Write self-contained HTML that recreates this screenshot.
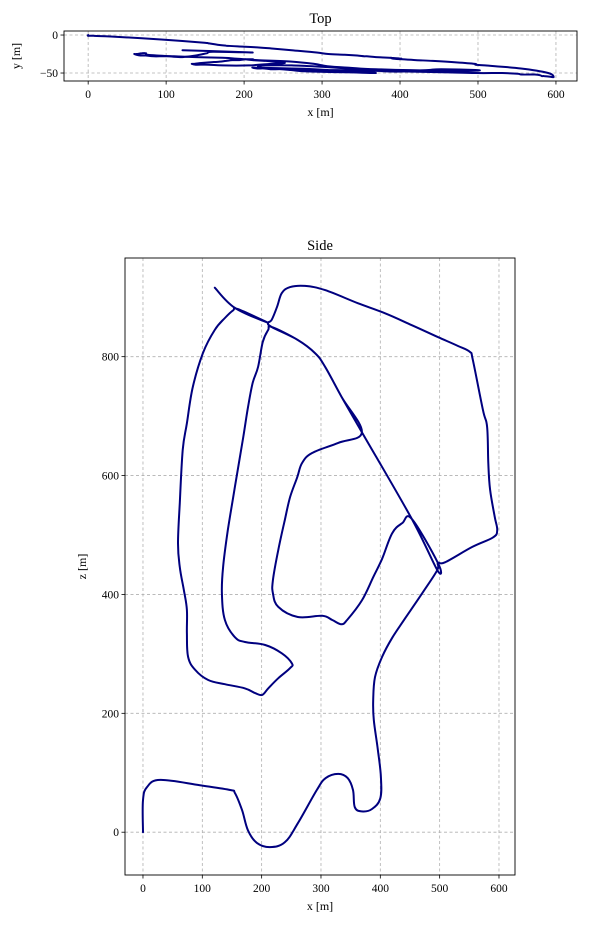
<!DOCTYPE html>
<html><head><meta charset="utf-8"><style>
body{margin:0;background:#fff;}
svg{display:block;font-family:"Liberation Serif",serif;}
</style></head><body>
<svg id="fig" width="590" height="928" viewBox="0 0 590 928"></svg>
<script>
const xs=[0,0,7,29,96,147,155,167,177,192,214,239,261,293,308,329,345,354,357,369,386,400,401,396,389,388,391,403,420,442,472,496,
497,509,555,590,597,593,585,582,580,573,556,551,531,497,453,408,362,307,273,248,234,226,217,211,
217,261,290,307,335,369,
329,285,268,260,248,239,228,219,219,228,261,302,319,334,344,369,388,403,420,437,453,
497,496,
453,369,335,307,290,261,217,211,
202,194,185,177,169,155,143,135,133,138,155,172,206,234,251,248,228,211,201,189,172,138,110,88,76,74,74,69,62,59,62,67,74,84,101,121,138,152,160,211,155,121];
const zs=[0,54,76,88,79,71,66,37,3,-18,-25,-17,15,71,91,98,91,71,42,35,39,57,93,138,189,222,261,295,327,360,404,441,
453,454,480,496,508,530,576,621,682,710,794,808,818,833,853,873,890,912,919,917,907,884,862,857,
850,828,806,783,732,673,
655,638,621,597,564,525,475,424,402,379,362,364,357,350,357,390,429,460,503,520,527,
453,441,
527,673,732,783,806,828,850,845,
825,783,756,715,665,581,508,446,402,357,328,320,315,301,284,276,259,242,231,234,242,249,256,273,295,335,374,407,446,486,554,643,688,749,806,845,865,878,880,857,882,916];
const ys=[0,-1,-1,-2,-6,-10,-11,-13,-14,-15,-16,-18,-20,-23,-25,-26,-27,-28,-28,-29,-30,-31,-31,-31,-30,-30,-31,-32,-33,-34,-36,-38,
-39,-40,-44,-50,-55,-55,-54,-54,-53,-52,-52,-51,-50,-50,-49,-48,-47,-46,-46,-45,-45,-44,-44,-43,
-43,-44,-45,-46,-48,-50,
-49,-48,-47,-46,-45,-44,-44,-42,-41,-40,-40,-42,-43,-44,-45,-47,-48,-48,-47,-46,-45,
-46,-47,
-47,-45,-43,-41,-38,-35,-33,-32,
-32,-33,-33,-34,-35,-36,-37,-38,-38,-39,-39,-40,-40,-38,-37,-36,-34,-33,-32,-31,-30,-29,-28,-27,-26,-25,-24,-24,-25,-25,-26,-27,-27,-28,-28,-29,-27,-24,-22,-23,-21,-20];
const xTicks=[0,100,200,300,400,500,600];
const yTicksTop=[0,-50];
const zTicks=[0,200,400,600,800];

const NS="http://www.w3.org/2000/svg";
const svg=document.getElementById('fig');
function mk(tag,attrs,parent){const e=document.createElementNS(NS,tag);for(const k in attrs)e.setAttribute(k,attrs[k]);(parent||svg).appendChild(e);return e;}
function fmt(t){return t<0?'\u2212'+Math.abs(t):String(t);}

function panel(name,box,xr,yr,xv,yv,yt,title,ylab){
  const g=mk('g',{});
  
  
  const sx=v=>box.x+(v-xr[0])/(xr[1]-xr[0])*box.w;
  const sy=v=>box.y+box.h-(v-yr[0])/(yr[1]-yr[0])*box.h;
  xTicks.forEach(t=>{
    const l=mk('line',{x1:sx(t),x2:sx(t),y1:box.y,y2:box.y+box.h,stroke:'#b0b0b0','stroke-width':0.8,'stroke-dasharray':'3,2.5'},g);
    
    
    mk('line',{x1:sx(t),x2:sx(t),y1:box.y+box.h,y2:box.y+box.h+3.5,stroke:'#000','stroke-width':0.8},g);
    const tx=mk('text',{x:sx(t),y:box.y+box.h+17,'text-anchor':'middle','font-size':11.5},g);
    tx.textContent=fmt(t);
    
    
  });
  yt.forEach(t=>{
    const l=mk('line',{x1:box.x,x2:box.x+box.w,y1:sy(t),y2:sy(t),stroke:'#b0b0b0','stroke-width':0.8,'stroke-dasharray':'3,2.5'},g);
    
    
    mk('line',{x1:box.x-3.5,x2:box.x,y1:sy(t),y2:sy(t),stroke:'#000','stroke-width':0.8},g);
    const tx=mk('text',{x:box.x-6,y:sy(t)+4,'text-anchor':'end','font-size':11.5},g);
    tx.textContent=fmt(t);
    
    
  });
  const P=xv.map((v,i)=>[sx(v),sy(yv[i])]);
  let d='M'+P[0][0].toFixed(1)+','+P[0][1].toFixed(1);
  const k=0.18;
  for(let i=0;i<P.length-1;i++){
    const p0=P[Math.max(0,i-1)],p1=P[i],p2=P[i+1],p3=P[Math.min(P.length-1,i+2)];
    const c1=[p1[0]+(p2[0]-p0[0])*k,p1[1]+(p2[1]-p0[1])*k];
    const c2=[p2[0]-(p3[0]-p1[0])*k,p2[1]-(p3[1]-p1[1])*k];
    d+='C'+c1[0].toFixed(1)+','+c1[1].toFixed(1)+' '+c2[0].toFixed(1)+','+c2[1].toFixed(1)+' '+p2[0].toFixed(1)+','+p2[1].toFixed(1);
  }
  const p=mk('path',{d:d,fill:'none',stroke:'#00007f','stroke-width':2,'stroke-linejoin':'round','stroke-linecap':'round'},g);
  
  
  const fr=mk('rect',{x:box.x,y:box.y,width:box.w,height:box.h,fill:'none',stroke:'#000','stroke-width':0.9},g);
  
  
  const ti=mk('text',{x:box.x+box.w/2,y:box.y-8,'text-anchor':'middle','font-size':14.5},g);
  ti.textContent=title;
  
  
  const xl=mk('text',{x:box.x+box.w/2,y:box.y+box.h+35,'text-anchor':'middle','font-size':12},g);
  xl.textContent='x [m]';
  
  
  const lx=name==='top'?20:86;
  const yl=mk('text',{x:lx,y:box.y+box.h/2,'text-anchor':'middle','font-size':12,transform:`rotate(-90 ${lx} ${box.y+box.h/2})`},g);
  yl.textContent=ylab;
  
  
}
panel('top',{x:64,y:31,w:513,h:50},[-31,627],[-60.5,5.3],xs,ys,yTicksTop,'Top','y [m]');
panel('side',{x:125,y:258,w:390,h:617},[-30.3,627],[-72,966],xs,zs,zTicks,'Side','z [m]');
</script>
</body></html>
